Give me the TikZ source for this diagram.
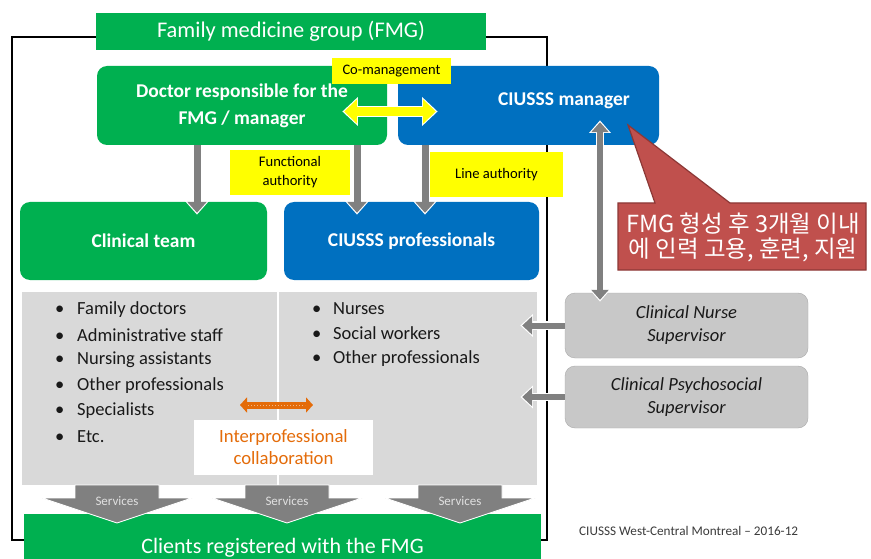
\documentclass[tikz,border=0pt]{standalone}
\usepackage{fontspec}
\setmainfont{Carlito}
\newfontfamily\kofont{Noto Sans CJK KR}
\usepackage{tikz}
\usetikzlibrary{arrows.meta, positioning, calc}
\definecolor{fmggreen}{RGB}{0,176,80}
\definecolor{fmgblue}{RGB}{0,112,192}
\definecolor{fmgyellow}{RGB}{255,255,0}
\definecolor{fmggray}{RGB}{217,217,217}
\definecolor{fmgsup}{RGB}{200,200,200}
\definecolor{fmgsupline}{RGB}{170,170,170}
\definecolor{fmgarrow}{RGB}{128,128,128}
\definecolor{fmgorange}{RGB}{228,108,10}
\definecolor{fmgred}{RGB}{192,80,77}
\definecolor{fmgredline}{RGB}{140,56,54}
\definecolor{fmgtext}{RGB}{25,25,25}

\tikzset{
  box/.style={inner sep=0pt, align=center, text=white},
  rbox/.style={box, rounded corners=10pt},
  ylabel/.style={fill=fmgyellow, inner sep=0pt, align=center, text=black, font=\fontsize{14.6}{19}\selectfont},
  item/.style={anchor=west, inner sep=0pt, text=fmgtext, font=\fontsize{18.5}{21}\selectfont},
  grayarrow/.style={fmgarrow, line width=7pt, -{Triangle[width=19pt,length=11pt]},
    preaction={draw=white, line width=9.5pt, -{Triangle[width=23pt,length=13.5pt]}, shorten >=-1.8pt}},
  sidearrow/.style={fmgarrow, line width=6pt, -{Triangle[width=18pt,length=10pt]},
    preaction={draw=white, line width=8.5pt, -{Triangle[width=22pt,length=12.5pt]}, shorten >=-1.8pt}},
  services/.style={fill=fmgarrow, draw=white, line width=0.8pt},
}

\begin{document}
\begin{tikzpicture}[x=1pt, y=-1pt]
\clip (0,0) rectangle (871,559);
\fill[white] (0,0) rectangle (871,559);

% outer frame
\draw[black, line width=1.4pt] (12,37) rectangle (547,540);

% title
\node[box, fill=fmggreen, minimum width=390pt, minimum height=37pt,
  font=\fontsize{22.4}{26}\selectfont] (title) at (291,31.5) {Family medicine group (FMG)};

% managers
\node[rbox, fill=fmggreen, minimum width=290pt, minimum height=79pt,
  font=\fontsize{19.5}{27}\selectfont\bfseries] (doc) at (242,105.5) {Doctor responsible for the\\FMG / manager};
\node[rbox, fill=fmgblue, minimum width=261pt, minimum height=79pt] (mgr) at (528.5,105.5) {};
\node[box, font=\fontsize{19.5}{22}\selectfont\bfseries] (mgrtext) at (564,101) {CIUSSS manager};

% teams
\node[rbox, fill=fmggreen, minimum width=247pt, minimum height=78pt,
  font=\fontsize{19.5}{22}\selectfont\bfseries] (clin) at (143.5,241) {Clinical team};
\node[rbox, fill=fmgblue, minimum width=255pt, minimum height=78pt,
  font=\fontsize{19.5}{22}\selectfont\bfseries] (prof) at (411.5,241) {CIUSSS professionals};

% authority arrows
\coordinate (ax1) at (197,0);
\coordinate (ax2) at (357,0);
\coordinate (ax3) at (425,0);
\draw[grayarrow] (doc.south -| ax1) -- ([yshift=-11pt]clin.north -| ax1);
\draw[grayarrow] (doc.south -| ax2) -- ([yshift=-11pt]prof.north -| ax2);
\draw[grayarrow] (mgr.south -| ax3) -- ([yshift=-11pt]prof.north -| ax3);

% yellow labels
\node[ylabel, minimum width=119pt, minimum height=26pt, font=\fontsize{14.5}{16}\selectfont] (comgmt) at (391.5,71) {Co-management};
\node[ylabel, minimum width=120pt, minimum height=45pt] (funct) at (290,172.5) {Functional\\authority};
\node[ylabel, minimum width=133pt, minimum height=45pt] (lineauth) at (496.5,174.5) {Line authority};

% co-management arrow
\draw[fmgyellow, line width=9pt, {Triangle[width=24pt,length=13pt]}-{Triangle[width=24pt,length=13pt]},
  preaction={draw=white, line width=11.5pt, {Triangle[width=28pt,length=15.5pt]}-{Triangle[width=28pt,length=15.5pt]}, shorten >=-1.8pt, shorten <=-1.8pt}]
  ([xshift=-43pt,yshift=-6pt]doc.east) -- ([xshift=38pt,yshift=-6pt]mgr.west);

% staff area
\node[fill=fmggray, minimum width=515pt, minimum height=193pt, inner sep=0pt] (team) at (279.5,388.5) {};
\draw[white, line width=1.2pt] (278,292) -- (278,485);

\node[item] (fam) at (55,310) {\makebox[22pt][l]{\textbullet}Family doctors};
\node[item] (adm) at (55,335) {\makebox[22pt][l]{\textbullet}Administrative staff};
\node[item] (nua) at (55,360) {\makebox[22pt][l]{\textbullet}Nursing assistants};
\node[item] (oth) at (55,386) {\makebox[22pt][l]{\textbullet}Other professionals};
\node[item] (spe) at (55,411) {\makebox[22pt][l]{\textbullet}Specialists};
\node[item] (etc) at (55,437) {\makebox[22pt][l]{\textbullet}Etc.};

\node[item] (nur) at (312,309) {\makebox[21pt][l]{\textbullet}Nurses};
\node[item] (soc) at (312,333) {\makebox[21pt][l]{\textbullet}Social workers};
\node[item] (opr) at (312,359) {\makebox[21pt][l]{\textbullet}Other professionals};

% interprofessional collaboration
\coordinate (ipl) at (240,405);
\coordinate (ipr) at (313,405);
\draw[fmgorange, line width=7pt, {Triangle[width=15pt,length=7pt]}-{Triangle[width=15pt,length=7pt]}] (ipl) -- (ipr);
\draw[fmgorange!50!white, line width=1pt, dotted] ([xshift=8pt]ipl) -- ([xshift=-8pt]ipr);
\node[fill=white, minimum width=179pt, minimum height=55pt, inner sep=0pt, align=center,
  text=fmgorange, font=\fontsize{18.7}{22}\selectfont] (inter) at (283.5,447.5) {Interprofessional\\collaboration};

% clients
\node[box, fill=fmggreen, minimum width=517pt, minimum height=68pt,
  font=\fontsize{22}{25}\selectfont] (clients) at (282.5,548) {Clients registered with the FMG};

% services arrows
\fill[services] (75,485) -- (159,485) -- (159,498) -- (192,498) -- (117,523) -- (42,498) -- (75,498) -- cycle;
\fill[services] (245,485) -- (329,485) -- (329,498) -- (362,498) -- (287,523) -- (212,498) -- (245,498) -- cycle;
\fill[services] (418,485) -- (502,485) -- (502,498) -- (535,498) -- (460,523) -- (385,498) -- (418,498) -- cycle;
\node[text=white!88!black, font=\fontsize{13}{15}\selectfont] (sv1) at (117,501) {Services};
\node[text=white!88!black, font=\fontsize{13}{15}\selectfont] (sv2) at (287,501) {Services};
\node[text=white!88!black, font=\fontsize{13}{15}\selectfont] (sv3) at (460,501) {Services};

% supervisors
\node[rbox, fill=fmgsup, draw=fmgsupline, minimum width=243pt, minimum height=65pt, text=fmgtext,
  font=\fontsize{18.5}{23}\selectfont\itshape] (nurse) at (686.5,325.5) {Clinical Nurse\\Supervisor};
\node[rbox, fill=fmgsup, draw=fmgsupline, minimum width=243pt, minimum height=62pt, text=fmgtext,
  font=\fontsize{18.5}{23}\selectfont\itshape] (psycho) at (686.5,397) {Clinical Psychosocial\\Supervisor};

\coordinate (vx) at (600,0);
\draw[fmgarrow, line width=6pt, {Triangle[width=17pt,length=10pt]}-{Triangle[width=17pt,length=10pt]},
  preaction={draw=white, line width=8.5pt, {Triangle[width=21pt,length=12.5pt]}-{Triangle[width=21pt,length=12.5pt]}, shorten >=-1.8pt, shorten <=-1.8pt}]
  ([yshift=23pt]mgr.south -| vx) -- ([yshift=-7pt]nurse.north -| vx);
\draw[sidearrow] (nurse.west) -- ([xshift=-15pt]team.east |- nurse.west);
\draw[sidearrow] (psycho.west) -- ([xshift=-15pt]team.east |- psycho.west);

% callout
\fill[fmgred, draw=fmgredline, line width=1.2pt] (618,203) -- (655,203) -- (628,125) -- (730,203)
  -- (866,203) -- (866,270) -- (618,270) -- cycle;
\node[text=white, align=center, font=\kofont\fontsize{23.5}{25}\selectfont] (note) at (743,237)
  {FMG 형성 후 3개월 이내\\에 인력 고용, 훈련, 지원};

% footer
\node[anchor=west, inner sep=0pt, text=fmgtext!85, font=\fontsize{13.2}{15}\selectfont] (foot) at (579,531)
  {CIUSSS West-Central Montreal – 2016-12};
\end{tikzpicture}
\end{document}
